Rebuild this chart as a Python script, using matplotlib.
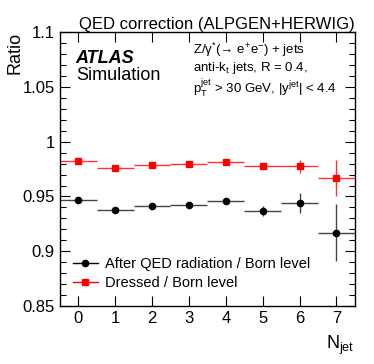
import numpy as np
import matplotlib.pyplot as plt
from matplotlib.lines import Line2D
from matplotlib.ticker import MultipleLocator

plt.rcParams['font.family'] = ['Liberation Sans', 'DejaVu Sans']
plt.rcParams['mathtext.fontset'] = 'custom'
plt.rcParams['mathtext.rm'] = 'Liberation Sans'
plt.rcParams['mathtext.it'] = 'Liberation Sans:italic'

# data
njet = [0, 1, 2, 3, 4, 5, 6, 7]
qed_ratio = [0.947, 0.938, 0.9415, 0.942, 0.9455, 0.9365, 0.944, 0.917]
qed_err = [0.001, 0.001, 0.001, 0.001, 0.001, 0.0044, 0.009, 0.026]
dressed_ratio = [0.982, 0.976, 0.979, 0.9795, 0.9815, 0.978, 0.9775, 0.967]
dressed_err = [0.001, 0.001, 0.001, 0.001, 0.001, 0.001, 0.0057, 0.0166]
yticks = [0.85, 0.9, 0.95, 1.0, 1.05, 1.1]
ytick_labels = ['0.85', '0.9', '0.95', '1', '1.05', '1.1']

fig = plt.figure(figsize=(3.74, 3.64), dpi=100)
ax = fig.add_axes([0.160, 0.159, 0.789, 0.753])

ax.errorbar(njet, qed_ratio, xerr=0.5, yerr=qed_err, fmt='o', color='black',
            ecolor='#444444', elinewidth=1, markersize=4.5, capsize=0)
ax.errorbar(njet, dressed_ratio, xerr=0.5, yerr=dressed_err, fmt='s', color='red',
            ecolor='#ff3333', elinewidth=1, markersize=4.5, capsize=0)

ax.set_xlim(-0.5, 7.5)
ax.set_ylim(0.85, 1.1)
ax.set_xticks(njet)
ax.set_yticks(yticks)
ax.set_yticklabels(ytick_labels)
ax.yaxis.set_minor_locator(MultipleLocator(0.01))
ax.tick_params(direction='in', top=True, right=True, labelsize=12, length=7, width=0.8)
ax.tick_params(which='minor', direction='in', right=True, length=4, width=0.8)
for s in ax.spines.values():
    s.set_linewidth(1)

ax.set_title('QED correction (ALPGEN+HERWIG)', loc='right', fontsize=12, pad=2)
fig.text(0.04, 0.912, 'Ratio', rotation=90, ha='center', va='top', fontsize=13)
fig.text(0.949, 0.05, r'N$_{\mathrm{jet}}$', ha='right', va='center', fontsize=13)

ax.text(0.054, 0.905, 'ATLAS', transform=ax.transAxes, fontsize=13,
        fontweight='bold', fontstyle='italic', va='center')
ax.text(0.054, 0.843, 'Simulation', transform=ax.transAxes, fontsize=13, va='center')
ax.text(0.45, 0.934, 'Z/γ$^{*}$(→ e$^{+}$e$^{-}$) + jets', transform=ax.transAxes,
        fontsize=9.5, va='center')
ax.text(0.45, 0.869, r'anti-k$_{\mathrm{t}}$ jets, R = 0.4,', transform=ax.transAxes,
        fontsize=9.5, va='center')
ax.text(0.45, 0.796, r'p$_{\mathrm{T}}^{\mathrm{jet}}$ > 30 GeV, |y$^{\mathrm{jet}}$| < 4.4',
        transform=ax.transAxes, fontsize=9.5, va='center')

handles = [
    Line2D([], [], color='black', marker='o', markersize=4.5, lw=1),
    Line2D([], [], color='red', marker='s', markersize=4.5, lw=1),
]
labels = ['After QED radiation / Born level', 'Dressed / Born level']
ax.legend(handles, labels, loc='lower left', bbox_to_anchor=(0.0, 0.012), frameon=False,
          fontsize=10.5, handlelength=1.7, handletextpad=0.5, labelspacing=0.35)

fig.savefig('out.png', dpi=100)
